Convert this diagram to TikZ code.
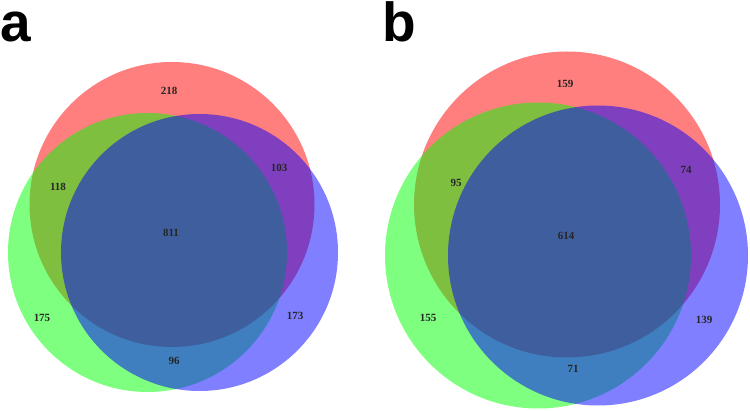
\documentclass[tikz,border=0pt]{standalone}
\usepackage{fontspec}
\setmainfont{Liberation Serif}
\newfontfamily\panelfont{Liberation Sans}
\begin{document}
\begin{tikzpicture}[x=1pt,y=-1pt,
  setred/.style={fill=red,fill opacity=0.5,draw=none},
  setgreen/.style={fill=green,fill opacity=0.5,draw=none},
  setblue/.style={fill=blue,fill opacity=0.5,draw=none},
  count/.style={font=\fontsize{11}{12}\selectfont\bfseries,text=black!85,inner sep=0pt},
  panel/.style={font=\fontsize{55}{60}\selectfont\panelfont\bfseries,anchor=base west,inner sep=0pt}]
\useasboundingbox (0,0) rectangle (750,411);
% panel a
\fill[setred] (172,204.5) circle (142.5);
\fill[setgreen] (147.5,252.5) circle (139.5);
\fill[setblue] (199.5,252.5) circle (138.5);
\node[panel] (pa) at (0,42) {a};
\node[count] (a218) at (169,91) {218};
\node[count] (a118) at (58,187) {118};
\node[count] (a103) at (279,168) {103};
\node[count] (a811) at (171,233) {811};
\node[count] (a175) at (42,318) {175};
\node[count] (a173) at (295,316) {173};
\node[count] (a96) at (174,361) {96};
% panel b
\fill[setred] (567,204.5) circle (153);
\fill[setgreen] (538,255.5) circle (153);
\fill[setblue] (598,255.5) circle (150);
\node[panel] (pb) at (382,42) {b};
\node[count] (b159) at (565,84) {159};
\node[count] (b95) at (456,183) {95};
\node[count] (b74) at (686,170) {74};
\node[count] (b614) at (566,236) {614};
\node[count] (b155) at (428,318) {155};
\node[count] (b139) at (704,320) {139};
\node[count] (b71) at (573,369) {71};
\end{tikzpicture}
\end{document}
